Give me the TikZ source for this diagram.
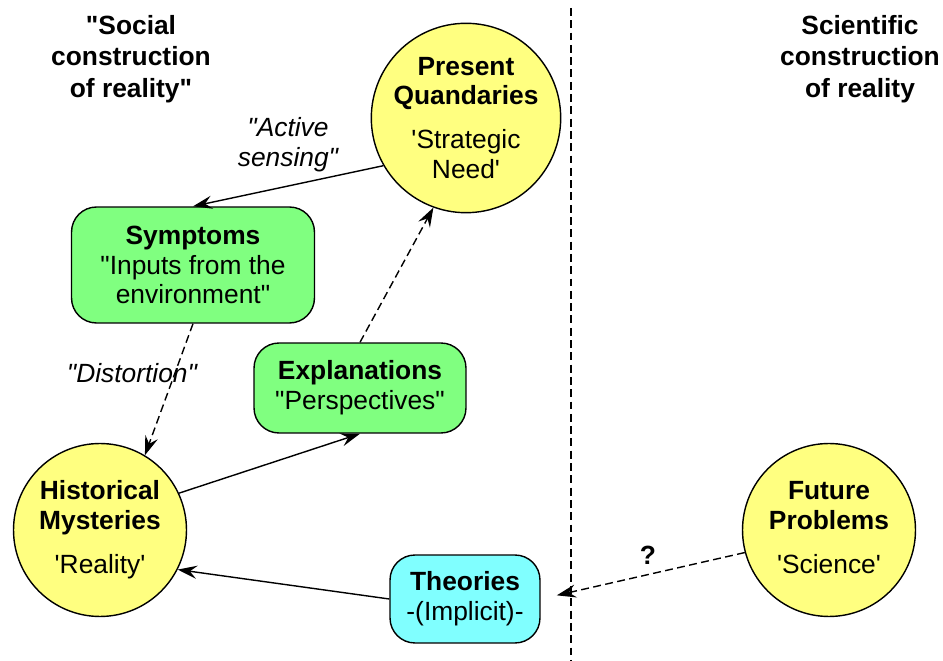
\documentclass[tikz,border=0pt]{standalone}
\usepackage{fontspec}
\setmainfont{Liberation Sans}[Ligatures=TeXOff]
\usepackage{tikz}
\usetikzlibrary{arrows.meta,shapes,positioning}

\definecolor{ballyellow}{RGB}{255,255,128}
\definecolor{boxgreen}{RGB}{128,255,128}
\definecolor{boxcyan}{RGB}{128,255,255}

\begin{document}
\begin{tikzpicture}[x=0.02cm, y=-0.02cm, line width=0.8pt,
  every node/.style={font=\fontsize{15}{17}\selectfont, align=center},
  ball/.style={circle, draw, fill=ballyellow, minimum size=3.46cm, inner sep=0pt},
  box/.style={rectangle, draw, rounded corners=0.5cm, fill=boxgreen},
  head/.style={font=\fontsize{15}{17.8}\selectfont\bfseries},
  note/.style={font=\fontsize{15}{17}\selectfont\itshape},
  dashes/.style={dash pattern=on 4.5pt off 2.5pt},
  arr/.style={-{Stealth[length=11pt,width=7.5pt,inset=4pt]}}]

 \useasboundingbox (0,0) rectangle (943,661);

 % divider
 \coordinate (top) at (571,8);
 \coordinate (bot) at (571,661);
 \draw[dashes] (top) -- (bot);

 \node[head] (soc) at (131,59) {"Social\\construction\\of reality"};
 \node[head] (sci) at (860,59) {Scientific\\construction\\of reality};

 % circles
 \node[ball] (pq) at (466,118) {\textbf{Present}\\\textbf{Quandaries}\\[8pt]'Strategic\\Need'};
 \node[ball] (hm) at (100,530) {\textbf{Historical}\\\textbf{Mysteries}\\[8pt]'Reality'};
 \node[ball] (fp) at (829,530) {\textbf{Future}\\\textbf{Problems}\\[8pt]'Science'\vphantom{y}};

 % boxes
 \node[box, minimum width=4.86cm, minimum height=2.32cm] (sym) at (193,265) {\textbf{Symptoms}\\"Inputs from the\\environment"};
 \node[box, minimum width=4.24cm, minimum height=1.8cm] (exp) at (360,388) {\textbf{Explanations}\\"Perspectives"};
 \node[box, fill=boxcyan, minimum width=3cm, minimum height=1.76cm] (th) at (465,599) {\textbf{Theories}\\-(Implicit)-};

 % arrows
 \foreach \a/\b in {pq.210/sym.north, hm.25/exp.south, th.west/hm.333}
   \draw[arr] (\a) -- (\b);
 \foreach \a/\b in {sym.south/hm.59, exp.north/pq.250}
   \draw[arr, dashes] (\a) -- (\b);
 \draw[arr, dashes, shorten >=0.33cm] (fp.195) -- (th.east);

 % labels
 \node[note] (act) at (288,145) {"Active\\sensing"};
 \node[note] (dist) at (132,373) {"Distortion"};
 \node (q) at (648,555) {\textbf{?}};

\end{tikzpicture}
\end{document}
